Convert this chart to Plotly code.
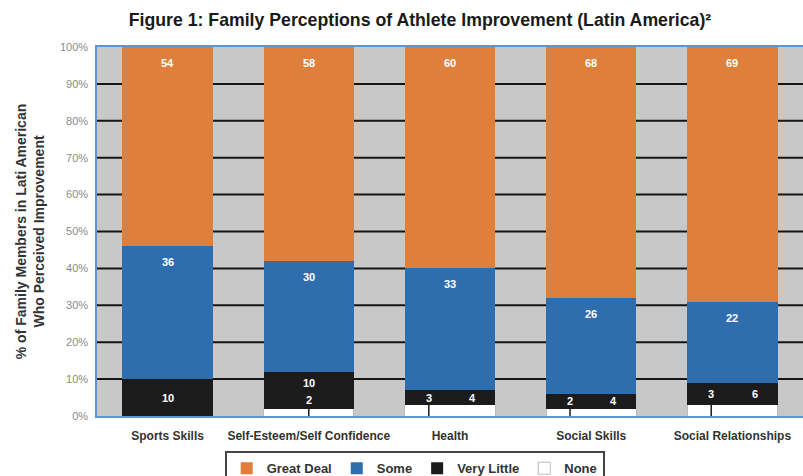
import plotly.graph_objects as go

categories = ["Sports Skills", "Self-Esteem/Self Confidence", "Health", "Social Skills", "Social Relationships"]
none_vals = [0, 2, 3, 2, 3]
very_little = [10, 10, 4, 4, 6]
some = [36, 30, 33, 26, 22]
great_deal = [54, 58, 60, 68, 69]
y_ticks = [0, 10, 20, 30, 40, 50, 60, 70, 80, 90, 100]

NARROW = "Liberation Sans Narrow, Arial Narrow, Liberation Sans, sans-serif"
C_ORANGE = "#DE7F3C"
C_BLUE = "#2F6EAE"
C_BLACK = "#1B1B1B"
C_GRAY = "#C8C8C8"
C_BORDER = "#5A96CF"

xs = list(range(len(categories)))
fig = go.Figure()
series = [("None", none_vals, "#FFFFFF"), ("Very Little", very_little, C_BLACK),
          ("Some", some, C_BLUE), ("Great Deal", great_deal, C_ORANGE)]
for name, vals, col in series:
    fig.add_trace(go.Bar(
        x=xs, y=vals, name="<b>%s</b>" % name, width=0.64,
        marker=dict(color=col, line=dict(width=1 if name == "None" else 0,
                                         color="#BBBBBB" if name == "None" else col)),
        hoverinfo="skip",
    ))

annots = []
shapes = []
# horizontal gridlines (below the bars)
for v in y_ticks[1:-1]:
    shapes.append(dict(type="line", xref="paper", x0=0, x1=1, y0=v, y1=v,
                       line=dict(color="#151515", width=2), layer="below"))

lab_font = dict(family="Liberation Sans, Arial, sans-serif", size=11, color="white")
for i in xs:
    base_vl = none_vals[i]
    top_vl = base_vl + very_little[i]
    top_some = top_vl + some[i]
    top_gd = top_some + great_deal[i]
    annots.append(dict(x=i, y=top_gd, text="<b>%d</b>" % great_deal[i], showarrow=False,
                       yshift=-16, font=lab_font))
    annots.append(dict(x=i, y=top_some, text="<b>%d</b>" % some[i], showarrow=False,
                       yshift=-16, font=lab_font))
    mid = (base_vl + top_vl) / 2
    if none_vals[i] == 0:
        annots.append(dict(x=i, y=mid, text="<b>%d</b>" % very_little[i], showarrow=False,
                           font=lab_font))
    elif very_little[i] >= 8:
        annots.append(dict(x=i, y=mid, text="<b>%d</b>" % very_little[i], showarrow=False,
                           yshift=7, font=lab_font))
        annots.append(dict(x=i, y=mid, text="<b>%d</b>" % none_vals[i], showarrow=False,
                           yshift=-10, font=lab_font))
        shapes.append(dict(type="line", x0=i, x1=i, y0=0, y1=none_vals[i],
                           line=dict(color=C_BLACK, width=1.5), layer="above"))
    else:
        annots.append(dict(x=i - 0.15, y=mid, text="<b>%d</b>" % none_vals[i], showarrow=False,
                           font=lab_font))
        annots.append(dict(x=i + 0.16, y=mid, text="<b>%d</b>" % very_little[i], showarrow=False,
                           font=lab_font))
        shapes.append(dict(type="line", x0=i - 0.15, x1=i - 0.15, y0=0, y1=none_vals[i],
                           line=dict(color=C_BLACK, width=1.5), layer="above"))

fig.update_layout(
    width=803, height=476,
    margin=dict(l=97, r=0, t=47, b=60),
    paper_bgcolor="white", plot_bgcolor=C_GRAY,
    barmode="stack",
    title=dict(text="<b>Figure 1: Family Perceptions of Athlete Improvement (Latin America)²</b>",
               x=0.523, xanchor="center", y=0.958, yanchor="middle",
               font=dict(family=NARROW, size=17.7, color="#1a1a1a")),
    xaxis=dict(range=[-0.5, 4.5], tickvals=xs, ticktext=["<b>%s</b>" % c for c in categories],
               tickfont=dict(family=NARROW, size=12, color="#333333"),
               showline=True, linecolor=C_BORDER, linewidth=1.5, mirror=True,
               showgrid=False, ticks="", ticklabelstandoff=8, automargin=False,
               fixedrange=True),
    yaxis=dict(range=[0, 100], tickvals=y_ticks, ticktext=["%d%%" % v for v in y_ticks],
               tickfont=dict(family="Liberation Sans, Arial, sans-serif", size=11, color="#8a8a8a"),
               showline=True, linecolor=C_BORDER, linewidth=1.5, mirror=True,
               showgrid=False, zeroline=False, automargin=False,
               ticks="", ticklabelstandoff=5,
               title=dict(text="<b>% of Family Members in Lati American<br>Who Perceived Improvement</b>",
                          font=dict(family=NARROW, size=14, color="#333333"), standoff=12)),
    legend=dict(orientation="h", traceorder="reversed", x=0.45, xanchor="center",
                yref="container", y=0.052, yanchor="top", bordercolor="#444444", borderwidth=2,
                font=dict(family=NARROW, size=13, color="#333333"),
                itemwidth=30),
    annotations=annots, shapes=shapes,
    showlegend=True,
)

fig.write_html("out.html")
